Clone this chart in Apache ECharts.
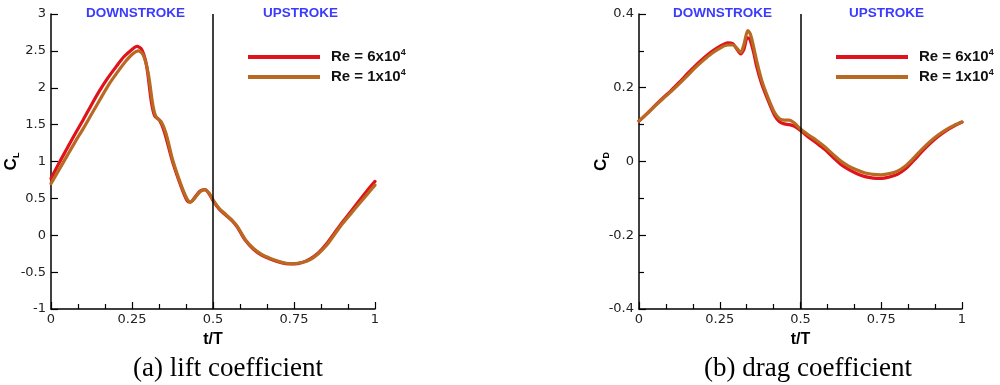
<!DOCTYPE html>
<html>
<head>
<meta charset="utf-8">
<script src="https://cdn.jsdelivr.net/npm/echarts@6/dist/echarts.min.js"></script>
<style>
  html, body { margin: 0; padding: 0; background: #fff; }
  #chart { width: 1000px; height: 385px; }
</style>
</head>
<body>
<div id="chart"></div>
<script>
// Phase t/T samples and coefficient histories for the two Reynolds numbers
const tLift = [0, 0.025, 0.05, 0.075, 0.1, 0.125, 0.15, 0.175, 0.2, 0.225, 0.25, 0.265, 0.28, 0.295, 0.31, 0.32, 0.335, 0.35, 0.375, 0.4, 0.42, 0.43, 0.445, 0.46, 0.475, 0.49, 0.5, 0.52, 0.54, 0.56, 0.575, 0.6, 0.625, 0.65, 0.675, 0.7, 0.725, 0.75, 0.775, 0.8, 0.825, 0.85, 0.875, 0.9, 0.925, 0.95, 0.975, 1.0];
const liftRe6e4 = [0.77, 0.98, 1.18, 1.38, 1.57, 1.77, 1.96, 2.13, 2.28, 2.42, 2.52, 2.56, 2.52, 2.3, 1.8, 1.62, 1.56, 1.4, 1.0, 0.68, 0.47, 0.45, 0.52, 0.6, 0.62, 0.55, 0.47, 0.35, 0.27, 0.19, 0.11, -0.07, -0.19, -0.27, -0.32, -0.36, -0.385, -0.39, -0.37, -0.32, -0.24, -0.12, 0.03, 0.18, 0.32, 0.46, 0.6, 0.73];
const tLift2 = [0, 0.025, 0.05, 0.075, 0.1, 0.125, 0.15, 0.175, 0.2, 0.225, 0.25, 0.27, 0.285, 0.3, 0.315, 0.325, 0.34, 0.355, 0.375, 0.4, 0.42, 0.43, 0.445, 0.46, 0.475, 0.49, 0.5, 0.52, 0.54, 0.56, 0.575, 0.6, 0.625, 0.65, 0.675, 0.7, 0.725, 0.75, 0.775, 0.8, 0.825, 0.85, 0.875, 0.9, 0.925, 0.95, 0.975, 1.0];
const liftRe1e4 = [0.70, 0.89, 1.08, 1.27, 1.45, 1.64, 1.83, 2.02, 2.18, 2.33, 2.45, 2.50, 2.44, 2.2, 1.75, 1.6, 1.54, 1.38, 1.03, 0.7, 0.49, 0.45, 0.51, 0.59, 0.62, 0.56, 0.48, 0.36, 0.28, 0.2, 0.12, -0.06, -0.18, -0.26, -0.31, -0.35, -0.38, -0.385, -0.37, -0.33, -0.25, -0.14, 0.01, 0.16, 0.29, 0.42, 0.55, 0.68];

const tDrag = [0, 0.025, 0.05, 0.075, 0.1, 0.125, 0.15, 0.175, 0.2, 0.225, 0.25, 0.275, 0.29, 0.305, 0.315, 0.325, 0.335, 0.343, 0.355, 0.365, 0.38, 0.4, 0.42, 0.435, 0.45, 0.465, 0.48, 0.5, 0.525, 0.55, 0.575, 0.6, 0.625, 0.65, 0.675, 0.7, 0.725, 0.75, 0.775, 0.8, 0.825, 0.85, 0.875, 0.9, 0.925, 0.95, 0.975, 1.0];
const dragRe6e4 = [0.11, 0.13, 0.152, 0.173, 0.193, 0.215, 0.238, 0.26, 0.28, 0.298, 0.312, 0.322, 0.32, 0.302, 0.292, 0.305, 0.335, 0.332, 0.295, 0.255, 0.21, 0.165, 0.125, 0.108, 0.102, 0.1, 0.096, 0.084, 0.066, 0.05, 0.033, 0.012, -0.008, -0.022, -0.033, -0.041, -0.045, -0.046, -0.042, -0.035, -0.02, 0.002, 0.026, 0.048, 0.067, 0.083, 0.096, 0.107];
const tDrag2 = [0, 0.025, 0.05, 0.075, 0.1, 0.125, 0.15, 0.175, 0.2, 0.225, 0.25, 0.275, 0.29, 0.305, 0.315, 0.325, 0.337, 0.345, 0.355, 0.365, 0.38, 0.4, 0.42, 0.435, 0.45, 0.465, 0.48, 0.5, 0.525, 0.55, 0.575, 0.6, 0.625, 0.65, 0.675, 0.7, 0.725, 0.75, 0.775, 0.8, 0.825, 0.85, 0.875, 0.9, 0.925, 0.95, 0.975, 1.0];
const dragRe1e4 = [0.11, 0.13, 0.151, 0.171, 0.19, 0.211, 0.233, 0.255, 0.275, 0.293, 0.307, 0.316, 0.316, 0.305, 0.296, 0.318, 0.355, 0.345, 0.31, 0.27, 0.22, 0.172, 0.132, 0.116, 0.112, 0.112, 0.105, 0.088, 0.072, 0.057, 0.04, 0.02, 0.001, -0.013, -0.023, -0.031, -0.035, -0.036, -0.033, -0.026, -0.012, 0.009, 0.032, 0.053, 0.071, 0.086, 0.098, 0.107];

const seriesNames = ['Re = 6x10^4', 'Re = 1x10^4'];
const strokeLabels = ['DOWNSTROKE', 'UPSTROKE'];
const captions = ['(a) lift coefficient', '(b) drag coefficient'];
const xTitle = 't/T';

const RED = '#e0121c';
const BROWN = '#b96a22';
const SANS = '"Liberation Sans", Arial, Helvetica, sans-serif';
const TICK = '"DejaVu Sans", "Liberation Sans", sans-serif';
const SERIF = '"Liberation Serif", "Times New Roman", serif';

const zip = (xs, ys) => xs.map((x, i) => [x, ys[i]]);

const chart = echarts.init(document.getElementById('chart'), null, { renderer: 'canvas' });

function xAxisCfg(gridIndex) {
  return {
    type: 'value', gridIndex, min: 0, max: 1, interval: 0.25,
    name: xTitle, nameLocation: 'middle', nameGap: 23,
    nameTextStyle: { fontFamily: SANS, fontWeight: 'bold', fontSize: 16, color: '#000' },
    axisLine: { onZero: false, lineStyle: { color: '#000', width: 1.5 } },
    axisTick: { inside: true, length: 7, lineStyle: { color: '#000', width: 1.2 } },
    minorTick: { show: true, splitNumber: 3, length: 5, lineStyle: { color: '#000', width: 1.2 } },
    splitLine: { show: false },
    axisLabel: { fontFamily: TICK, fontSize: 13, color: '#222', margin: 4,
      formatter: v => String(v) }
  };
}

function yAxisCfg(gridIndex, min, max, interval, minor, sub, gap) {
  return {
    type: 'value', gridIndex, min, max, interval,
    name: '{c|C}{s|' + sub + '}', nameLocation: 'middle', nameRotate: 90,
    nameGap: gap, nameMoveOverlap: false,
    nameTextStyle: {
      rich: {
        c: { fontFamily: SANS, fontWeight: 'bold', fontSize: 17, color: '#000' },
        s: { fontFamily: SANS, fontWeight: 'bold', fontSize: 9, color: '#000', padding: [10, 0, 0, 0] }
      }
    },
    axisLine: { onZero: false, lineStyle: { color: '#000', width: 1.5 } },
    axisTick: { inside: true, length: 7, lineStyle: { color: '#000', width: 1.2 } },
    minorTick: { show: minor > 0, splitNumber: minor || 5, length: 5, lineStyle: { color: '#000', width: 1.2 } },
    splitLine: { show: false },
    axisLabel: { fontFamily: TICK, fontSize: 13, color: '#222', margin: 5 }
  };
}

function lineSeries(name, data, color, xi, z) {
  return {
    name, type: 'line', xAxisIndex: xi, yAxisIndex: xi, data,
    smooth: 0.3, showSymbol: false, symbol: 'none', z,
    lineStyle: { color, width: 3.2, cap: 'round', join: 'round' }, itemStyle: { color }
  };
}

// Vertical divider between downstroke and upstroke
function dividerSeries(xi) {
  return {
    type: 'line', xAxisIndex: xi, yAxisIndex: xi, data: [], silent: true,
    markLine: {
      silent: true, symbol: 'none', animation: false,
      label: { show: false },
      lineStyle: { color: '#000', width: 1.5, type: 'solid' },
      data: [{ xAxis: 0.5 }]
    }
  };
}

const legendRich = {
  b: { fontFamily: SANS, fontWeight: 'bold', fontSize: 15, color: '#111', lineHeight: 17 },
  sup: { fontFamily: SANS, fontWeight: 'bold', fontSize: 9, color: '#111', lineHeight: 17, padding: [0, 0, 9, 0] }
};
const legendFmt = n => {
  const parts = n.split('^');
  return '{b|' + parts[0] + '}{sup|' + parts[1] + '}';
};

function legendCfg(left) {
  return {
    data: seriesNames, left, top: 43, orient: 'vertical',
    itemWidth: 72, itemHeight: 4, itemGap: 2,
    icon: 'rect',
    formatter: legendFmt,
    textStyle: { rich: legendRich, padding: [0, 0, 0, 6] },
    selectedMode: false
  };
}

const strokeStyle = { fontFamily: SANS, fontWeight: 'bold', fontSize: 13.5, fill: '#3b3bff' };
const captionStyle = { fontFamily: SERIF, fontSize: 27, fill: '#000', align: 'center', verticalAlign: 'middle' };

chart.setOption({
  animation: false,
  backgroundColor: '#fff',
  grid: [
    { left: 51, right: 625, top: 14, bottom: 76, containLabel: false, outerBoundsMode: 'none' },
    { left: 639, right: 38, top: 14, bottom: 76, containLabel: false, outerBoundsMode: 'none' }
  ],
  xAxis: [xAxisCfg(0), xAxisCfg(1)],
  yAxis: [yAxisCfg(0, -1, 3, 0.5, 0, 'L', 30), yAxisCfg(1, -0.4, 0.4, 0.2, 2, 'D', 28)],
  legend: [legendCfg(243), legendCfg(831)],
  series: [
    dividerSeries(0),
    lineSeries(seriesNames[0], zip(tLift, liftRe6e4), RED, 0, 3),
    lineSeries(seriesNames[1], zip(tLift2, liftRe1e4), BROWN, 0, 4),
    dividerSeries(1),
    lineSeries(seriesNames[0], zip(tDrag, dragRe6e4), RED, 1, 3),
    lineSeries(seriesNames[1], zip(tDrag2, dragRe1e4), BROWN, 1, 4)
  ],
  graphic: [
    { type: 'text', left: 86, top: 6, style: Object.assign({ text: strokeLabels[0] }, strokeStyle) },
    { type: 'text', left: 263, top: 6, style: Object.assign({ text: strokeLabels[1] }, strokeStyle) },
    { type: 'text', left: 673, top: 6, style: Object.assign({ text: strokeLabels[0] }, strokeStyle) },
    { type: 'text', left: 849, top: 6, style: Object.assign({ text: strokeLabels[1] }, strokeStyle) },
    { type: 'text', x: 228, y: 369, style: Object.assign({ text: captions[0] }, captionStyle) },
    { type: 'text', x: 808, y: 369, style: Object.assign({ text: captions[1] }, captionStyle) }
  ]
});
</script>
</body>
</html>
